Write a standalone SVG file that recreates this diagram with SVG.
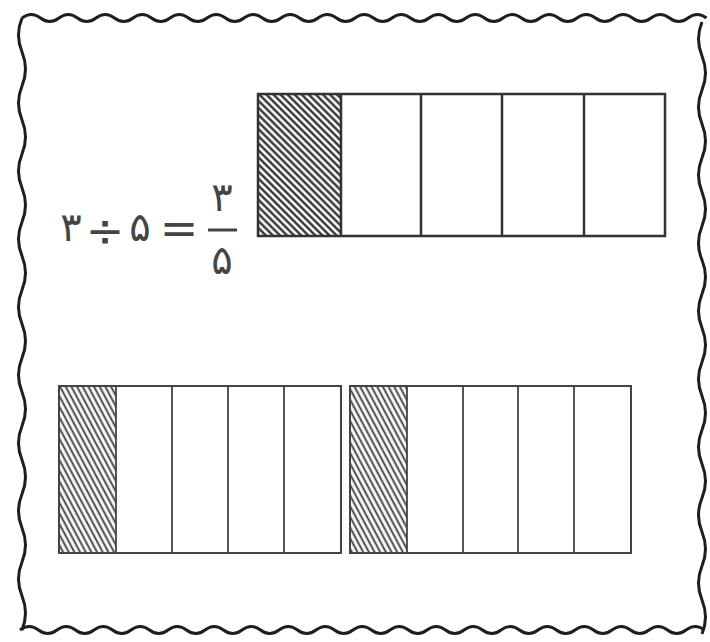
<svg xmlns="http://www.w3.org/2000/svg" width="710" height="642" viewBox="0 0 710 642">
<defs>
<pattern id="hatchTop" width="5" height="10" patternUnits="userSpaceOnUse" patternTransform="rotate(-45)">
<rect width="5" height="10" fill="#fff"/>
<line x1="1.5" y1="0" x2="1.5" y2="10" stroke="#1e1e1e" stroke-width="2.2"/>
</pattern>
<pattern id="hatchBot" width="5" height="10" patternUnits="userSpaceOnUse" patternTransform="rotate(-28)">
<rect width="5" height="10" fill="#fff"/>
<line x1="1.5" y1="0" x2="1.5" y2="10" stroke="#333" stroke-width="1.8"/>
</pattern>
</defs>
<style>
.frame{fill:none;stroke:#1e1e1e;stroke-width:3;stroke-linejoin:round}
.box{fill:none;stroke:#333;stroke-width:2.5}
.boxb{fill:none;stroke:#444;stroke-width:2}
.div{stroke:#333;stroke-width:2.5}
.divb{stroke:#444;stroke-width:1.8}
.num{font-family:"DejaVu Sans",sans-serif;font-size:40px;fill:#444;text-anchor:middle}
.op{font-family:"DejaVu Sans",sans-serif;font-size:46px;fill:#444;text-anchor:middle}
</style>
<rect width="710" height="642" fill="#fff"/>
<g id="frame">
<path class="frame" d="M22 18 q9.25 -7 18.5 0 t18.5 0 t18.5 0 t18.5 0 t18.5 0 t18.5 0 t18.5 0 t18.5 0 t18.5 0 t18.5 0 t18.5 0 t18.5 0 t18.5 0 t18.5 0 t18.5 0 t18.5 0 t18.5 0 t18.5 0 t18.5 0 t18.5 0 t18.5 0 t18.5 0 t18.5 0 t18.5 0 t18.5 0 t18.5 0 t18.5 0 t18.5 0 t18.5 0 t18.5 0 t18.5 0 t18.5 0 t18.5 0 t18.5 0 t18.5 0 t18.5 0 t18.5 0"/>
<path class="frame" d="M22 18 q-7 17 0 34 t0 34 t0 34 t0 34 t0 34 t0 34 t0 34 t0 34 t0 34 t0 34 t0 34 t0 34 t0 34 t0 34 t0 34 t0 34 t0 34 t0 34"/>
<path class="frame" d="M702 22 q-7 17 0 34 t0 34 t0 34 t0 34 t0 34 t0 34 t0 34 t0 34 t0 34 t0 34 t0 34 t0 34 t0 34 t0 34 t0 34 t0 34 t0 34 t0 34"/>
<path class="frame" d="M20 630 q9.25 -7 18.5 0 t18.5 0 t18.5 0 t18.5 0 t18.5 0 t18.5 0 t18.5 0 t18.5 0 t18.5 0 t18.5 0 t18.5 0 t18.5 0 t18.5 0 t18.5 0 t18.5 0 t18.5 0 t18.5 0 t18.5 0 t18.5 0 t18.5 0 t18.5 0 t18.5 0 t18.5 0 t18.5 0 t18.5 0 t18.5 0 t18.5 0 t18.5 0 t18.5 0 t18.5 0 t18.5 0 t18.5 0 t18.5 0 t18.5 0 t18.5 0 t18.5 0 t18.5 0"/>
</g>
<g id="equation">
<text class="num" x="71" y="241">۳</text>
<text class="op" x="105" y="246">÷</text>
<text class="num" x="140" y="241">۵</text>
<text class="op" x="179" y="244">=</text>
<text class="num" x="222" y="211">۳</text>
<line x1="208" y1="230" x2="237" y2="230" stroke="#444" stroke-width="3"/>
<text class="num" x="222" y="274">۵</text>
</g>
<g id="bar-top">
<rect x="258" y="94" width="83" height="142" fill="url(#hatchTop)"/>
<rect class="box" x="258" y="94" width="407" height="142"/>
<line class="div" x1="341" y1="94" x2="341" y2="236"/>
<line class="div" x1="421" y1="94" x2="421" y2="236"/>
<line class="div" x1="502" y1="94" x2="502" y2="236"/>
<line class="div" x1="584" y1="94" x2="584" y2="236"/>
</g>
<g id="bar-left">
<rect x="59" y="386" width="57" height="167" fill="url(#hatchBot)"/>
<rect class="boxb" x="59" y="386" width="282" height="167"/>
<line class="divb" x1="116" y1="386" x2="116" y2="553"/>
<line class="divb" x1="172" y1="386" x2="172" y2="553"/>
<line class="divb" x1="228" y1="386" x2="228" y2="553"/>
<line class="divb" x1="284" y1="386" x2="284" y2="553"/>
</g>
<g id="bar-right">
<rect x="350" y="386" width="57" height="167" fill="url(#hatchBot)"/>
<rect class="boxb" x="350" y="386" width="281" height="167"/>
<line class="divb" x1="407" y1="386" x2="407" y2="553"/>
<line class="divb" x1="463" y1="386" x2="463" y2="553"/>
<line class="divb" x1="518" y1="386" x2="518" y2="553"/>
<line class="divb" x1="574" y1="386" x2="574" y2="553"/>
</g>
</svg>
